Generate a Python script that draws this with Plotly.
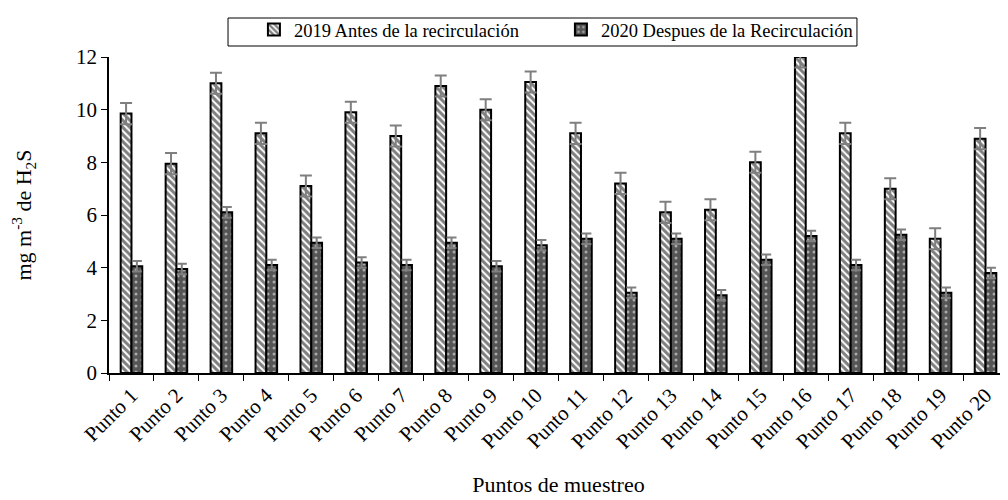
import plotly.graph_objects as go

categories = [f"Punto {i}" for i in range(1, 21)]
values_2019 = [9.85, 7.95, 11.0, 9.1, 7.1, 9.9, 9.0, 10.9, 10.0, 11.05,
               9.1, 7.2, 6.1, 6.2, 8.0, 12.0, 9.1, 7.0, 5.1, 8.9]
values_2020 = [4.05, 3.95, 6.1, 4.1, 4.95, 4.2, 4.1, 4.95, 4.05, 4.85,
               5.1, 3.05, 5.1, 2.95, 4.3, 5.2, 4.1, 5.25, 3.05, 3.8]
error_2019 = [0.4] * 20
error_2020 = [0.2] * 20
y_ticks = [0, 2, 4, 6, 8, 10, 12]

FONT = "Liberation Serif"

fig = go.Figure()
fig.add_trace(go.Bar(
    x=categories, y=values_2019, name="2019 Antes de la recirculación",
    marker=dict(color="white", line=dict(color="black", width=2),
                pattern=dict(shape="\\", fgcolor="black", bgcolor="white",
                             size=5, solidity=0.6)),
    error_y=dict(type="data", array=error_2019, color="#7f7f7f",
                 thickness=2, width=6),
))
fig.add_trace(go.Bar(
    x=categories, y=values_2020, name="2020 Despues de la Recirculación",
    marker=dict(color="#555555", line=dict(color="black", width=2),
                pattern=dict(shape=".", fgcolor="white", bgcolor="#555555",
                             size=6, solidity=0.2)),
    error_y=dict(type="data", array=error_2020, color="#7f7f7f",
                 thickness=2, width=5),
))

# legend frame (drawn as a box around the legend)
fig.add_shape(type="rect", xref="paper", yref="paper",
              x0=0.1324, x1=0.832, y0=1.0348, y1=1.1234,
              line=dict(color="black", width=1), fillcolor="rgba(0,0,0,0)")

fig.update_layout(
    width=1000, height=492,
    margin=dict(l=101, r=0, t=49, b=127),
    paper_bgcolor="white", plot_bgcolor="white",
    font=dict(family=FONT, color="black", size=18),
    barmode="group", bargap=0.52, bargroupgap=0,
    showlegend=True,
    legend=dict(orientation="h", xref="paper", yref="container",
                x=0.5027, xanchor="center", y=0.994, yanchor="top",
                borderwidth=0, bgcolor="rgba(0,0,0,0)",
                font=dict(family=FONT, size=18.5, color="black"),
                entrywidth=262, itemwidth=30),
    xaxis=dict(
        showline=True, linecolor="black", linewidth=1.5,
        ticks="outside", ticklen=6, tickcolor="black", tickson="boundaries",
        tickangle=-45, tickfont=dict(family=FONT, size=21),
        title=dict(text="Puntos de muestreo", font=dict(family=FONT, size=22),
                   standoff=24),
        showgrid=False, automargin=False,
    ),
    yaxis=dict(
        range=[0, 12], tickvals=y_ticks,
        showline=True, linecolor="black", linewidth=1.5,
        ticks="outside", ticklen=6, tickcolor="black",
        tickfont=dict(family=FONT, size=21),
        title=dict(text="mg m<sup>-3</sup> de H<sub>2</sub>S",
                   font=dict(family=FONT, size=22), standoff=40),
        showgrid=False, zeroline=False, automargin=False,
    ),
)

fig.write_html("out.html")
